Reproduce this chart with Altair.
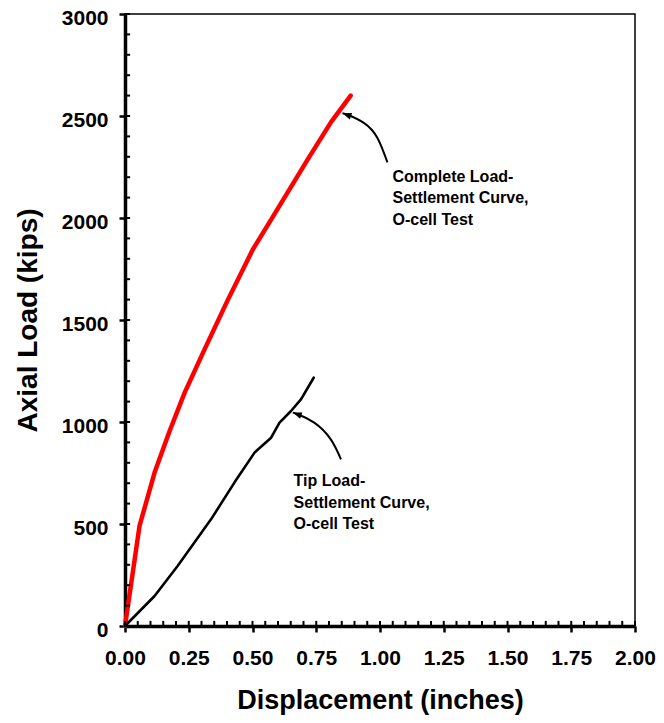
import altair as alt
import pandas as pd

# ---- data ----
complete_x = [0.0, 0.057, 0.116, 0.175, 0.234, 0.312, 0.40, 0.501, 0.573, 0.716, 0.808, 0.885]
complete_y = [0, 491, 752, 956, 1144, 1356, 1590, 1845, 1992, 2286, 2470, 2600]

tip_x = [0.0, 0.116, 0.207, 0.338, 0.429, 0.508, 0.573, 0.606, 0.651, 0.690, 0.740]
tip_y = [0, 147, 295, 524, 703, 850, 923, 997, 1054, 1111, 1217]

x_major = [0.0, 0.25, 0.5, 0.75, 1.0, 1.25, 1.5, 1.75, 2.0]
y_major = [0, 500, 1000, 1500, 2000, 2500, 3000]
x_minor = [round(i * 0.05, 2) for i in range(41)]
y_minor = [i * 100 for i in range(31)]

# annotation arrows (data units)
arrow1_x = [1.029, 0.990, 0.938, 0.873, 0.853]
arrow1_y = [2273, 2392, 2465, 2506, 2514]
arrow2_x = [0.847, 0.807, 0.742, 0.677, 0.658]
arrow2_y = [817, 915, 997, 1038, 1046]

label_text = ["Complete Load-\nSettlement Curve,\nO-cell Test",
              "Tip Load-\nSettlement Curve,\nO-cell Test"]
label_x = [1.049, 0.661]
label_y = [2178, 686]

FONT = "Liberation Sans"

complete_df = pd.DataFrame({"x": complete_x, "y": complete_y, "o": range(len(complete_x))})
tip_df = pd.DataFrame({"x": tip_x, "y": tip_y, "o": range(len(tip_x))})
arrows_df = pd.DataFrame({
    "x": arrow1_x + arrow2_x,
    "y": arrow1_y + arrow2_y,
    "a": ["c"] * len(arrow1_x) + ["t"] * len(arrow2_x),
    "o": list(range(len(arrow1_x))) + list(range(len(arrow2_x))),
})
heads_df = pd.DataFrame({"x": [arrow1_x[-1], arrow2_x[-1]], "y": [arrow1_y[-1], arrow2_y[-1]]})
labels_df = pd.DataFrame({"x": label_x, "y": label_y, "t": label_text})
xminor_df = pd.DataFrame({"v": x_minor})
yminor_df = pd.DataFrame({"v": y_minor})

xs = alt.Scale(domain=[0, 2], nice=False, zero=False)
ys = alt.Scale(domain=[0, 3000], nice=False)

x_main_axis = alt.Axis(
    orient="bottom", values=x_major, format=".2f", title="Displacement (inches)",
    grid=False, tickSize=6, tickWidth=2.5, tickColor="black",
    domainWidth=3.5, domainColor="black", labelOverlap=False, labelFlush=False,
    labelFont=FONT, labelFontSize=21, labelFontWeight="bold", labelColor="black", labelPadding=15,
    titleFont=FONT, titleFontSize=27, titleFontWeight="bold", titleColor="black", titlePadding=19,
)
y_main_axis = alt.Axis(
    orient="left", values=y_major, format="d", title="Axial Load (kips)",
    grid=False, tickSize=6, tickWidth=2.5, tickColor="black",
    domainWidth=3.5, domainColor="black", labelOverlap=False, labelFlush=False,
    labelFont=FONT, labelFontSize=21, labelFontWeight="bold", labelColor="black", labelPadding=11,
    labelOffset=4,
    titleFont=FONT, titleFontSize=28, titleFontWeight="bold", titleColor="black", titlePadding=19,
)

complete_line = alt.Chart(complete_df).mark_line(
    color="#ff0000", strokeWidth=4.5, strokeCap="round", strokeJoin="round"
).encode(
    x=alt.X("x:Q", scale=xs, axis=x_main_axis),
    y=alt.Y("y:Q", scale=ys, axis=y_main_axis),
    order="o:O",
)

x_minor_ticks = alt.Chart(xminor_df).mark_rule(color="black", strokeWidth=2).encode(
    x=alt.X("v:Q", scale=xs, axis=None),
    y=alt.Y(datum=0, scale=ys, axis=None),
    y2=alt.Y2(datum=25),
)
y_minor_ticks = alt.Chart(yminor_df).mark_rule(color="black", strokeWidth=2).encode(
    y=alt.Y("v:Q", scale=ys, axis=None),
    x=alt.X(datum=0, scale=xs, axis=None),
    x2=alt.X2(datum=0.02),
)

tip_line = alt.Chart(tip_df).mark_line(
    color="black", strokeWidth=2.6, strokeCap="round", strokeJoin="round"
).encode(
    x=alt.X("x:Q", scale=xs, axis=None),
    y=alt.Y("y:Q", scale=ys, axis=None),
    order="o:O",
)

arrows = alt.Chart(arrows_df).mark_line(color="black", strokeWidth=2, interpolate="natural").encode(
    x=alt.X("x:Q", scale=xs, axis=None),
    y=alt.Y("y:Q", scale=ys, axis=None),
    detail="a:N",
    order="o:O",
)

heads = alt.Chart(heads_df).mark_point(
    shape="M0,0L-0.75,2L0.75,2Z", filled=True, size=81, color="black",
    opacity=1, angle=290, strokeWidth=0,
).encode(
    x=alt.X("x:Q", scale=xs, axis=None),
    y=alt.Y("y:Q", scale=ys, axis=None),
)

labels = alt.Chart(labels_df).mark_text(
    align="left", baseline="alphabetic", font=FONT, fontSize=16, fontWeight="bold",
    lineBreak="\n", lineHeight=21.7, color="black",
).encode(
    x=alt.X("x:Q", scale=xs, axis=None),
    y=alt.Y("y:Q", scale=ys, axis=None),
    text="t:N",
)

chart = alt.layer(
    complete_line, x_minor_ticks, y_minor_ticks, tip_line, arrows, heads, labels
).resolve_axis(
    x="independent", y="independent"
).properties(
    width=510, height=612,
    padding={"left": 117, "top": 6, "right": 21, "bottom": 89},
    autosize=alt.AutoSizeParams(type="none"),
    background="white",
).configure_view(stroke="black", strokeWidth=1.5)

chart.save("out.html", embed_options={"renderer": "svg", "actions": False})
